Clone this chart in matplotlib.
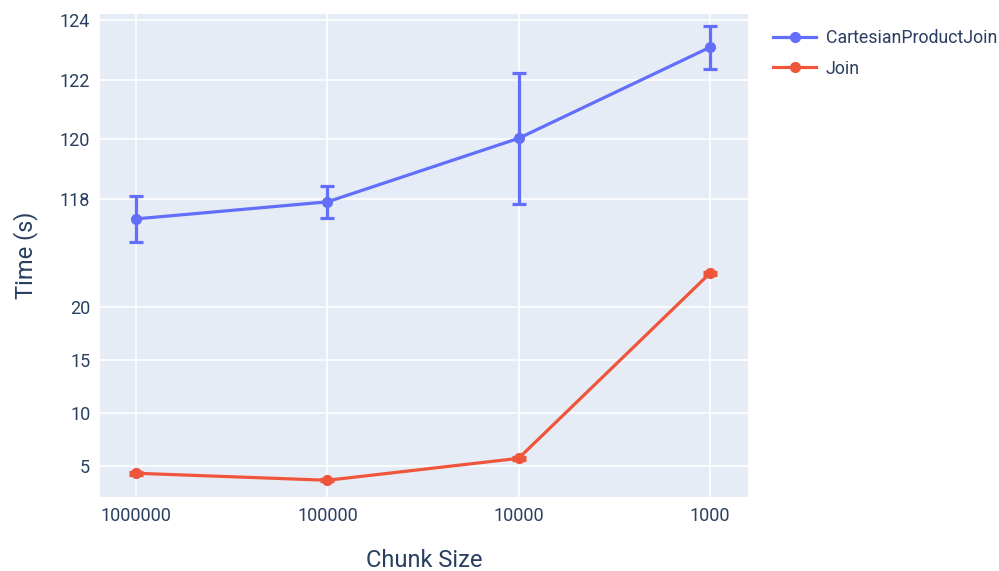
import matplotlib.pyplot as plt
from matplotlib.lines import Line2D

plt.rcParams['font.family'] = ['Roboto', 'DejaVu Sans']

# Datos
chunk_sizes = ['1000000', '100000', '10000', '1000']
cartesian_mean = [117.33, 117.90, 120.03, 123.08]
cartesian_err = [0.78, 0.54, 2.20, 0.72]
join_mean = [4.34, 3.68, 5.75, 23.2]
join_err = [0.12, 0.10, 0.12, 0.15]

BG = '#E5ECF6'
TXT = '#2a3f5f'
BLUE = '#636EFA'
RED = '#EF553B'

fig = plt.figure(figsize=(9.99, 5.71), dpi=100)
ax_top = fig.add_axes([0.1001, 0.5525, 0.6486, 0.4230])
ax_bot = fig.add_axes([0.1001, 0.1296, 0.6486, 0.4230])

x = list(range(len(chunk_sizes)))

def estilo(ax):
    ax.set_facecolor(BG)
    for s in ax.spines.values():
        s.set_visible(False)
    ax.grid(True, color='white', linewidth=1.2)
    ax.set_axisbelow(True)
    ax.tick_params(length=0, labelsize=13, labelcolor=TXT, pad=7)
    ax.set_xlim(-0.19, 3.2)
    ax.set_xticks(x)

# Serie superior
ax_top.errorbar(x, cartesian_mean, yerr=cartesian_err, color=BLUE, lw=2.3,
                marker='o', ms=7, elinewidth=2.3, capsize=5, capthick=2.3)
estilo(ax_top)
ax_top.set_ylim(116.1, 124.2)
ax_top.set_yticks([118, 120, 122, 124])
ax_top.set_xticklabels([])

# Serie inferior
ax_bot.errorbar(x, join_mean, yerr=join_err, color=RED, lw=2.3,
                marker='o', ms=7, elinewidth=2.3, capsize=5, capthick=2.3)
estilo(ax_bot)
ax_bot.set_ylim(2.1, 24.9)
ax_bot.set_yticks([5, 10, 15, 20])
ax_bot.set_xticklabels(chunk_sizes)

fig.text(0.4245, 0.019, 'Chunk Size', ha='center', va='center',
         fontsize=17, color=TXT)
fig.text(0.026, 0.553, 'Time (s)', ha='center', va='center', rotation=90,
         fontsize=17, color=TXT)

# Leyenda con línea y marcador solamente
handles = [Line2D([], [], color=BLUE, lw=2.3, marker='o', ms=7),
           Line2D([], [], color=RED, lw=2.3, marker='o', ms=7)]
fig.legend(handles, ['CartesianProductJoin', 'Join'], loc='upper left',
           bbox_to_anchor=(0.767, 0.962), borderaxespad=0, frameon=False,
           fontsize=12.8, handlelength=2.4, labelspacing=0.72,
           handletextpad=0.55, labelcolor=TXT)

fig.savefig('out.png', dpi=100)
